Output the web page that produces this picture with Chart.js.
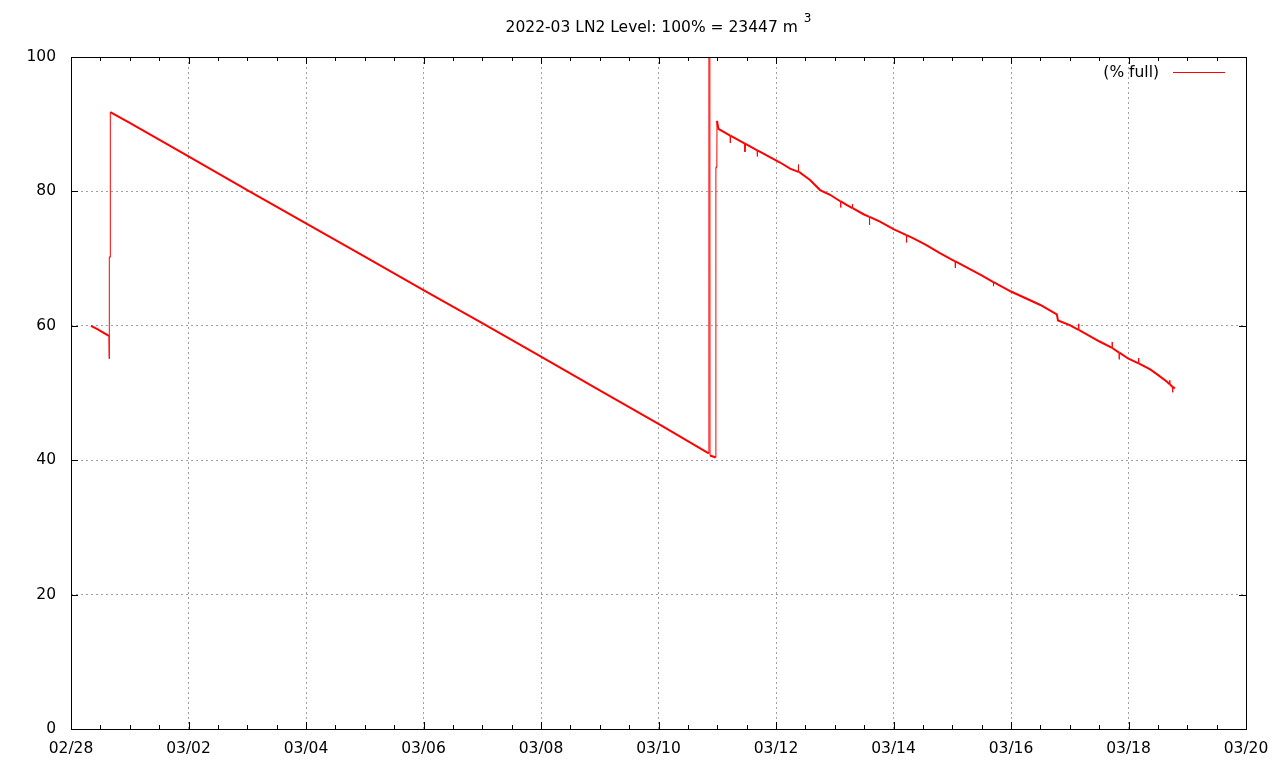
<!DOCTYPE html>
<html>
<head>
<meta charset="utf-8">
<title>LN2 Level</title>
<script src="https://cdn.jsdelivr.net/npm/chart.js@4/dist/chart.umd.min.js"></script>
<style>
    html, body { margin: 0; padding: 0; background: #fff; }
    #wrap { width: 1280px; height: 768px; position: relative; }
</style>
</head>
<body>
<div id="wrap"><canvas id="ln2-chart"></canvas></div>
<script>
// days since 02/28 00:00
const days = [
    0.34, 0.45, 0.55, 0.645, 0.650, 0.652, 0.667, 0.669,
    1.0, 2.0, 3.0, 4.0, 5.0, 6.0, 7.0, 8.0, 9.0, 10.0, 10.855,
    10.858, 10.874, 10.877, 10.975, 10.977, 10.993, 10.996, 11.02,
    11.22, 11.222, 11.224,
    11.47, 11.472, 11.474,
    11.68, 11.682, 11.684,
    12.07, 12.24, 12.38, 12.382, 12.384, 12.41, 12.58, 12.75, 12.92,
    13.1, 13.102, 13.104, 13.2, 13.3, 13.302, 13.304, 13.49,
    13.59, 13.592, 13.594, 13.77, 14.0,
    14.22, 14.222, 14.224, 14.34, 14.56, 14.79, 15.0,
    15.05, 15.052, 15.054, 15.5, 15.7, 15.702, 15.704, 16.0, 16.5,
    16.78, 16.8, 17.0, 17.15, 17.152, 17.154,
    17.5, 17.72, 17.722, 17.724, 17.84, 17.842, 17.844, 18.0,
    18.17, 18.172, 18.174, 18.37, 18.5, 18.65,
    18.70, 18.702, 18.704, 18.75, 18.752, 18.754, 18.79
];

// tank level in % full
const level = [
    60.0, 59.5, 59.0, 58.5, 55.1, 70.2, 70.2, 91.8,
    90.2, 85.2, 80.2, 75.25, 70.3, 65.3, 60.4, 55.4, 50.4, 45.4, 41.0,
    110, 110, 40.7, 40.4, 83.6, 83.6, 90.5, 89.3,
    88.3, 87.2, 88.3,
    87.1, 85.9, 87.1,
    86.1, 85.2, 86.1,
    84.3, 83.4, 82.9, 84.0, 82.9, 82.8, 81.7, 80.2, 79.5,
    78.5, 77.6, 78.5, 78.0, 77.5, 78.1, 77.5, 76.6,
    76.2, 75.0, 76.2, 75.5, 74.4,
    73.5, 72.4, 73.5, 73.0, 72.0, 70.8, 69.8,
    69.6, 68.6, 69.6, 67.5, 66.5, 65.9, 66.5, 65.1, 63.1,
    61.7, 60.8, 60.1, 59.4, 60.3, 59.4,
    57.7, 56.7, 57.6, 56.7, 56.0, 55.0, 56.0, 55.1,
    54.4, 55.2, 54.4, 53.5, 52.7, 51.7,
    51.3, 51.9, 51.3, 50.9, 50.1, 50.9, 50.7
];

const xTickLabels = ['02/28', '03/02', '03/04', '03/06', '03/08', '03/10',
                     '03/12', '03/14', '03/16', '03/18', '03/20'];

const titleText = '2022-03 LN2 Level: 100% = 23447 m';
const titleSup = '3';

const FONT = { family: 'DejaVu Sans', size: 15.5 };

// gnuplot style frame: border, inward ticks on all four sides, legend, title
const framePlugin = {
    id: 'frame',
    afterDatasetsDraw(chart) {
        const { ctx, chartArea: a, scales: { x, y } } = chart;
        ctx.save();
        ctx.strokeStyle = '#000';
        ctx.lineWidth = 1;
        ctx.strokeRect(a.left + 0.5, a.top + 0.5, a.right - a.left, a.bottom - a.top);

        ctx.beginPath();
        for (let d = x.min; d <= x.max + 1e-9; d += 0.5) {
            const px = Math.round(x.getPixelForValue(d)) + 0.5;
            const len = d % 2 === 0 ? 7 : 4;
            ctx.moveTo(px, a.bottom);
            ctx.lineTo(px, a.bottom - len);
            ctx.moveTo(px, a.top);
            ctx.lineTo(px, a.top + len);
        }
        y.ticks.forEach(t => {
            const py = Math.round(y.getPixelForValue(t.value)) + 0.5;
            ctx.moveTo(a.left, py);
            ctx.lineTo(a.left + 7, py);
            ctx.moveTo(a.right, py);
            ctx.lineTo(a.right - 7, py);
        });
        ctx.stroke();

        // legend
        const ds = chart.data.datasets[0];
        ctx.font = `${FONT.size}px "${FONT.family}"`;
        ctx.fillStyle = '#000';
        ctx.textAlign = 'right';
        ctx.textBaseline = 'middle';
        ctx.fillText(ds.label, a.right - 87, a.top + 16);
        ctx.strokeStyle = ds.borderColor;
        ctx.beginPath();
        ctx.moveTo(a.right - 73, a.top + 15.5);
        ctx.lineTo(a.right - 21, a.top + 15.5);
        ctx.stroke();

        // title with raised exponent
        ctx.textAlign = 'left';
        ctx.textBaseline = 'alphabetic';
        const w1 = ctx.measureText(titleText).width;
        ctx.font = `12px "${FONT.family}"`;
        const w2 = ctx.measureText(titleSup).width;
        const gap = 6;
        const x0 = (a.left + a.right) / 2 - (w1 + gap + w2) / 2;
        ctx.fillText(titleSup, x0 + w1 + gap, 22);
        ctx.font = `${FONT.size}px "${FONT.family}"`;
        ctx.fillText(titleText, x0, 32);
        ctx.restore();
    }
};

const points = days.map((d, i) => ({ x: d, y: level[i] }));

new Chart(document.getElementById('ln2-chart'), {
    type: 'line',
    data: {
        datasets: [{
            label: '(% full)',
            data: points,
            borderColor: '#ff0000',
            borderWidth: 2,
            pointRadius: 0,
            tension: 0,
            fill: false,
            clip: 0,
            segment: {
                // near-vertical jumps are single pixel lines in the original
                borderWidth: c => (c.p1.parsed.x - c.p0.parsed.x < 0.01 ? 1 : 2)
            }
        }]
    },
    options: {
        responsive: true,
        maintainAspectRatio: false,
        animation: false,
        layout: { padding: { left: 0, right: 34, top: 57, bottom: 0 } },
        plugins: {
            legend: { display: false },
            tooltip: { enabled: false },
            title: { display: false }
        },
        scales: {
            x: {
                type: 'linear',
                min: 0,
                max: 20,
                afterFit: s => { s.height = 39; },
                grid: { color: '#a0a0a0', lineWidth: 1, drawTicks: false },
                border: { display: false, dash: [2, 3] },
                ticks: {
                    stepSize: 2,
                    autoSkip: false,
                    maxRotation: 0,
                    padding: 11,
                    color: '#000',
                    font: FONT,
                    callback: v => xTickLabels[Math.round(v / 2)]
                }
            },
            y: {
                min: 0,
                max: 100,
                afterFit: s => { s.width = 71; },
                grid: { color: '#a0a0a0', lineWidth: 1, drawTicks: false },
                border: { display: false, dash: [2, 3] },
                ticks: {
                    stepSize: 20,
                    padding: 15,
                    color: '#000',
                    font: FONT
                }
            }
        }
    },
    plugins: [framePlugin]
});
</script>
</body>
</html>
